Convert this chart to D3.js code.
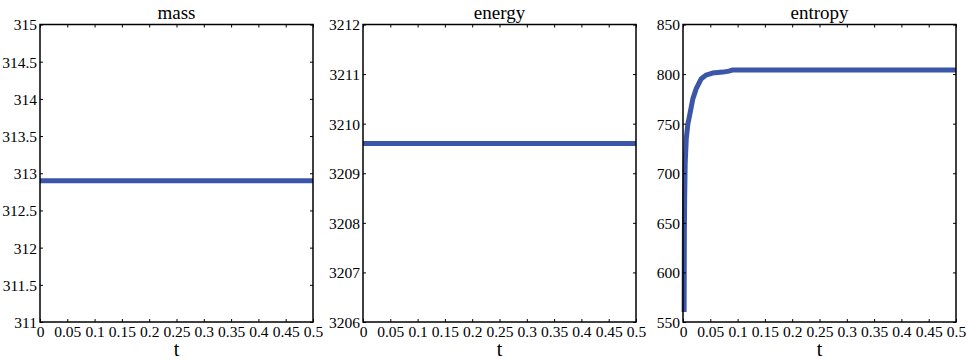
<!DOCTYPE html>
<html>
<head>
<meta charset="utf-8">
<script src="https://cdn.jsdelivr.net/npm/d3@7"></script>
</head>
<body style="margin:0;background:#fff">
<svg id="chart" width="970" height="360" font-family="'Liberation Serif'"></svg>
<script>
// x axis (shared by all three panels)
var xTicks = [0, 0.05, 0.1, 0.15, 0.2, 0.25, 0.3, 0.35, 0.4, 0.45, 0.5]
var xTickLabels = ["0", "0.05", "0.1", "0.15", "0.2", "0.25", "0.3", "0.35", "0.4", "0.45", "0.5"]

// mass panel
var massT = [0, 0.5]
var massValues = [312.9, 312.9]
var massTicks = [311, 311.5, 312, 312.5, 313, 313.5, 314, 314.5, 315]

// energy panel
var energyT = [0, 0.5]
var energyValues = [3209.6, 3209.6]
var energyTicks = [3206, 3207, 3208, 3209, 3210, 3211, 3212]

// entropy panel
var entropyT = [0.002, 0.0025, 0.003, 0.004, 0.006, 0.009, 0.012, 0.018, 0.024, 0.033, 0.042, 0.054, 0.073, 0.084, 0.09, 0.5]
var entropyValues = [560, 640, 675, 710, 735, 750, 758, 775, 785, 795, 799, 801, 802, 803, 804, 804]
var entropyTicks = [550, 600, 650, 700, 750, 800, 850]

var panels = [
    { title: "mass", t: massT, v: massValues, ticks: massTicks, left: 40 },
    { title: "energy", t: energyT, v: energyValues, ticks: energyTicks, left: 363 },
    { title: "entropy", t: entropyT, v: entropyValues, ticks: entropyTicks, left: 683 }
]

var panelWidth = 273
var plotTop = 24.5, plotBottom = 322
var plotHeight = plotBottom - plotTop
var lineColor = "#3b55a8"
var serifFont = "'Liberation Serif'"

var svg = d3.select("#chart")

panels.forEach(function(p) {
    var g = svg.append("g")
        .attr("transform", "translate(" + p.left + "," + plotTop + ")")

    var x = d3.scaleLinear().domain([0, 0.5]).range([0, panelWidth])
    var y = d3.scaleLinear().domain(d3.extent(p.ticks)).range([plotHeight, 0])

    // data line
    var line = d3.line()
        .x(function(d, i) { return x(p.t[i]) })
        .y(function(d) { return y(d) })
    g.append("path")
        .datum(p.v)
        .attr("fill", "none")
        .attr("stroke", lineColor)
        .attr("stroke-width", 5)
        .attr("stroke-linejoin", "round")
        .attr("d", line)

    // bottom axis, ticks pointing inward
    var xAxis = g.append("g")
        .attr("transform", "translate(0," + plotHeight + ")")
        .call(d3.axisBottom(x).tickValues(xTicks)
            .tickFormat(function(d, i) { return xTickLabels[i] })
            .tickSize(-3).tickPadding(4))
    // top mirror ticks
    var xTop = g.append("g")
        .call(d3.axisTop(x).tickValues(xTicks).tickFormat("").tickSize(-3))
    // left axis
    var yAxis = g.append("g")
        .call(d3.axisLeft(y).tickValues(p.ticks)
            .tickFormat(d3.format("")).tickSize(-3).tickPadding(3))
    // right mirror ticks
    var yRight = g.append("g")
        .attr("transform", "translate(" + panelWidth + ",0)")
        .call(d3.axisRight(y).tickValues(p.ticks).tickFormat("").tickSize(-3))

    ;[xAxis, xTop, yAxis, yRight].forEach(function(a) {
        a.attr("font-family", serifFont).attr("font-size", 15.5)
        a.select(".domain").remove()
        a.selectAll(".tick line").attr("stroke", "#000").attr("stroke-width", 1)
        a.selectAll("text")
            .style("font-family", serifFont)
            .style("font-size", "15.5px")
            .attr("fill", "#000")
    })
    yAxis.selectAll("text").attr("dy", "0.35em")

    // frame
    g.append("rect")
        .attr("width", panelWidth)
        .attr("height", plotHeight)
        .attr("fill", "none")
        .attr("stroke", "#000")
        .attr("stroke-width", 1.5)

    // title
    g.append("text")
        .attr("x", panelWidth / 2)
        .attr("y", -6)
        .attr("text-anchor", "middle")
        .style("font-family", serifFont)
        .style("font-size", "19px")
        .text(p.title)

    // x label
    g.append("text")
        .attr("x", panelWidth / 2)
        .attr("y", plotHeight + 34)
        .attr("text-anchor", "middle")
        .style("font-family", serifFont)
        .style("font-size", "20px")
        .text("t")
})
</script>
</body>
</html>
